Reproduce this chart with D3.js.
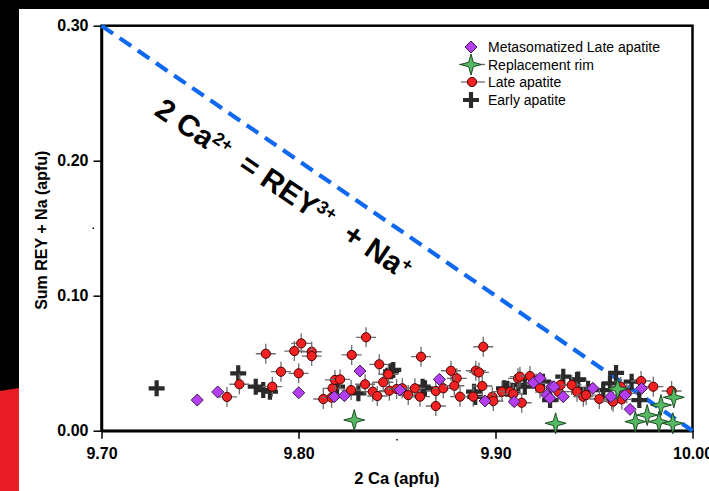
<!DOCTYPE html>
<html><head><meta charset="utf-8">
<script src="https://cdn.jsdelivr.net/npm/d3@7"></script>
<style>html,body{margin:0;padding:0;background:#000;}svg{display:block;}</style>
</head><body>
<script>
// ---- data ----
const xTicks = [9.70, 9.80, 9.90, 10.00];
const yTicks = [0.00, 0.10, 0.20, 0.30];
const xMinor = [9.85];
const yMinor = [0.15];
const legendLabels = ["Metasomatized Late apatite", "Replacement rim", "Late apatite", "Early apatite"];
const substitutionLine = [[9.70, 0.30], [10.00, 0.00]];

const earlyApatite = [[9.728,0.0314],[9.7694,0.0425],[9.7783,0.0326],[9.7821,0.0301],[9.7855,0.0289],
 [9.8196,0.0326],[9.8304,0.0277],[9.847,0.044],[9.8481,0.045],[9.8642,0.0314],[9.863,0.0326],
 [9.8891,0.0289],[9.8897,0.025],[9.9043,0.0314],[9.906,0.031],[9.9116,0.0339],[9.9149,0.0326],
 [9.9241,0.0363],[9.9277,0.0227],[9.9344,0.04],[9.942,0.038],[9.9414,0.0376],[9.947,0.031],
 [9.9547,0.0301],[9.9581,0.0351],[9.9612,0.0428],[9.9691,0.0363],[9.973,0.0227]];

const lateApatite = [[9.7637,0.025],[9.770,0.0344],[9.7834,0.057],[9.7867,0.0326],[9.7911,0.0437],
 [9.7979,0.059],[9.8014,0.0647],[9.8001,0.0425],[9.8067,0.0585],[9.8067,0.0553],[9.8126,0.0235],
 [9.8168,0.0245],[9.8173,0.0314],[9.8185,0.0376],[9.8211,0.038],[9.827,0.0561],[9.8267,0.0301],
 [9.8343,0.0692],[9.8338,0.0344],[9.8377,0.0289],[9.84,0.0257],[9.841,0.0492],[9.843,0.0359],
 [9.8456,0.0418],[9.8461,0.0296],[9.8498,0.0309],[9.8527,0.0314],[9.8557,0.0264],[9.8591,0.0314],
 [9.8617,0.0252],[9.8622,0.0548],[9.8697,0.0183],[9.8697,0.0294],[9.8735,0.0314],[9.8774,0.0444],
 [9.8803,0.0388],[9.8791,0.0333],[9.882,0.0252],[9.89,0.0444],[9.8916,0.0432],[9.8938,0.0622],
 [9.8933,0.0331],[9.8887,0.0252],[9.8984,0.0252],[9.8989,0.022],[9.9033,0.0289],[9.9074,0.0289],
 [9.909,0.0272],[9.9114,0.0388],[9.9124,0.04],[9.9133,0.0207],[9.9175,0.0405],[9.9206,0.0351],
 [9.9226,0.0314],[9.9319,0.0289],[9.933,0.0339],[9.9387,0.0339],[9.9414,0.0289],[9.9446,0.0252],
 [9.946,0.0264],[9.9527,0.0235],[9.959,0.0227],[9.9597,0.0215],[9.9636,0.0326],[9.9641,0.0232],
 [9.9666,0.0277],[9.9739,0.0368],[9.9801,0.0326],[9.9894,0.0294]];

const metasomatizedLate = [[9.7486,0.0227],[9.759,0.0287],[9.8001,0.0281],[9.8182,0.0252],[9.8233,0.0259],
 [9.8312,0.0442],[9.8515,0.0301],[9.8715,0.038],[9.8947,0.022],[9.9095,0.0215],[9.9192,0.0356],
 [9.9226,0.0388],[9.926,0.0264],[9.9276,0.024],[9.9285,0.0326],[9.9297,0.0326],[9.9344,0.0252],
 [9.9494,0.0314],[9.9586,0.0252],[9.9657,0.0264],[9.9683,0.0158],[9.9742,0.0314]];

const replacementRim = [[9.8283,0.0079],[9.9305,0.0055],[9.962,0.031],[9.971,0.0067],[9.977,0.0116],
 [9.983,0.0067],[9.984,0.019],[9.990,0.0055],[9.9905,0.0247]];

// ---- drawing ----
const W = 709, H = 491;
const svg = d3.select("body").append("svg").attr("width", W).attr("height", H);
const FONT = "Arial, 'Liberation Sans', Helvetica, sans-serif";

svg.append("rect").attr("width", W).attr("height", H).attr("fill", "#000");
svg.append("polygon").attr("points", "0,391 19,388 19,491 0,491").attr("fill", "#e81d25");
svg.append("rect").attr("x", 19).attr("y", 9).attr("width", W - 19).attr("height", H - 9).attr("fill", "#fff");

const x = d3.scaleLinear().domain([9.70, 10.00]).range([101.5, 692.5]);
const y = d3.scaleLinear().domain([0, 0.30]).range([430.7, 25.7]);

// frame
svg.append("rect").attr("x", x(9.70)).attr("y", y(0.30))
  .attr("width", x(10.00) - x(9.70)).attr("height", y(0) - y(0.30))
  .attr("fill", "none").attr("stroke", "#000").attr("stroke-width", 2.5);

// axes
const ax = svg.append("g").attr("transform", `translate(0,${y(0)})`)
  .call(d3.axisBottom(x).tickValues(xTicks).tickFormat(d3.format(".2f")).tickSize(8).tickSizeOuter(0).tickPadding(9));
const ay = svg.append("g").attr("transform", `translate(${x(9.70)},0)`)
  .call(d3.axisLeft(y).tickValues(yTicks).tickFormat(d3.format(".2f")).tickSize(8).tickSizeOuter(0).tickPadding(5));
[ax, ay].forEach(g => {
  g.select(".domain").attr("stroke", "#000").attr("stroke-width", 2.5);
  g.selectAll(".tick line").attr("stroke", "#000").attr("stroke-width", 1.5);
  g.selectAll(".tick text").attr("fill", "#000").style("font-family", FONT)
    .style("font-size", "16px").style("font-weight", "bold");
});
// minor tick dots
svg.selectAll(".mx").data(xMinor).enter().append("rect")
  .attr("x", d => x(d) - 0.7).attr("y", 439).attr("width", 1.5).attr("height", 1.5).attr("fill", "#000");
svg.selectAll(".my").data(yMinor).enter().append("rect")
  .attr("x", 92.5).attr("y", d => y(d) - 0.7).attr("width", 1.5).attr("height", 1.5).attr("fill", "#000");

// axis titles
svg.append("text").attr("x", (x(9.70) + x(10.00)) / 2).attr("y", 484).attr("text-anchor", "middle")
  .style("font-family", FONT).style("font-size", "16.5px").style("font-weight", "bold").text("2 Ca (apfu)");
svg.append("text").attr("transform", `translate(47,${(y(0) + y(0.30)) / 2 + 2}) rotate(-90)`)
  .attr("text-anchor", "middle").style("font-family", FONT).style("font-size", "16px").style("font-weight", "bold")
  .text("Sum REY + Na (apfu)");

// dashed substitution line
svg.append("path").datum(substitutionLine)
  .attr("d", d3.line().x(d => x(d[0])).y(d => y(d[1])))
  .attr("fill", "none").attr("stroke", "#0f68f0").attr("stroke-width", 4.2).attr("stroke-dasharray", "14,8");

// annotation
function word(ax0, ay0, main, sup) {
  const t = svg.append("text").attr("transform", `translate(${ax0},${ay0}) rotate(34)`)
    .style("font-family", FONT).style("font-size", "30px").style("font-weight", "bold").attr("fill", "#000");
  t.append("tspan").text(main);
  t.append("tspan").attr("dy", -10).style("font-size", "18px").text(sup);
}
word(153, 114, "2 Ca", "2+");
word(237, 169, "= REY", "3+");
word(341, 239, "+ Na", "+");

// markers
const plot = svg.append("g");
const starPath = (() => {
  const R = 10.5, r = 3.2, pts = [];
  for (let i = 0; i < 8; i++) {
    const a = i * Math.PI / 4 - Math.PI / 2, rr = i % 2 ? r : R;
    pts.push([rr * Math.cos(a), rr * Math.sin(a)]);
  }
  return "M" + pts.map(p => p.join(",")).join("L") + "Z";
})();
const diamondPath = "M0,-6L6,0L0,6L-6,0Z";
const plusPath = "M-8,0H8M0,-8V8";

function drawPlus(g, data) {
  g.selectAll(null).data(data).enter().append("path")
    .attr("transform", d => `translate(${x(d[0])},${y(d[1])})`)
    .attr("d", plusPath).attr("stroke", "#2a2a2a").attr("stroke-width", 4.2).attr("fill", "none");
}
function drawCircles(g, data) {
  const s = g.selectAll(null).data(data).enter().append("g")
    .attr("transform", d => `translate(${x(d[0])},${y(d[1])})`);
  s.append("path").attr("d", "M-10,0H10M0,-10V10").attr("stroke", "#6e6e6e").attr("stroke-width", 1.3);
  s.append("circle").attr("r", 4.6).attr("fill", "#f22222").attr("stroke", "#4a0000").attr("stroke-width", 1);
}
function drawDiamonds(g, data) {
  g.selectAll(null).data(data).enter().append("path")
    .attr("transform", d => `translate(${x(d[0])},${y(d[1])})`)
    .attr("d", diamondPath).attr("fill", "#b43ff0").attr("stroke", "#3a1a4a").attr("stroke-width", 1);
}
function drawStars(g, data) {
  g.selectAll(null).data(data).enter().append("path")
    .attr("transform", d => `translate(${x(d[0])},${y(d[1])})`)
    .attr("d", starPath).attr("fill", "#55b963").attr("stroke", "#1e4a24").attr("stroke-width", 1);
}
drawPlus(plot, earlyApatite);
drawCircles(plot, lateApatite);
drawDiamonds(plot, metasomatizedLate);
drawStars(plot, replacementRim);

// legend
const lg = svg.append("g");
const rowsY = [47, 64.5, 82, 100];
const markerX = 471;
lg.append("path").attr("transform", `translate(${markerX},${rowsY[0]})`).attr("d", diamondPath)
  .attr("fill", "#b43ff0").attr("stroke", "#3a1a4a");
lg.append("path").attr("d", `M${markerX - 12},${rowsY[1]}H${markerX + 14}`).attr("stroke", "#6e6e6e").attr("stroke-width", 1.3);
lg.append("path").attr("transform", `translate(${markerX},${rowsY[1]})`).attr("d", starPath)
  .attr("fill", "#55b963").attr("stroke", "#1e4a24");
lg.append("path").attr("d", `M${markerX - 10},${rowsY[2]}H${markerX + 14}`).attr("stroke", "#6e6e6e").attr("stroke-width", 1.3);
lg.append("circle").attr("cx", markerX + 1).attr("cy", rowsY[2]).attr("r", 4.6)
  .attr("fill", "#f22222").attr("stroke", "#4a0000");
lg.append("path").attr("transform", `translate(${markerX},${rowsY[3]})`).attr("d", plusPath)
  .attr("stroke", "#2a2a2a").attr("stroke-width", 4.2);
lg.selectAll("text.l").data(legendLabels).enter().append("text")
  .attr("x", 488).attr("y", (d, i) => rowsY[i] + 5)
  .style("font-family", FONT).style("font-size", "14px").attr("fill", "#000").text(d => d);
</script>
</body></html>
